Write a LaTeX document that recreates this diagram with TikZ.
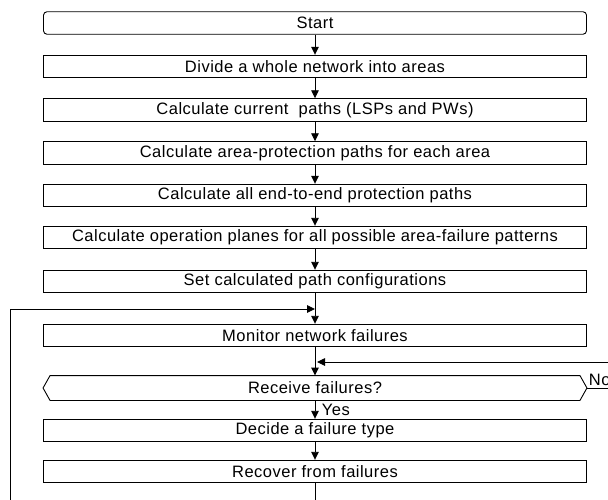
\documentclass[tikz,border=0pt]{standalone}
\usepackage{fontspec}
\setmainfont{Liberation Sans}[LetterSpace=3]
\usetikzlibrary{arrows.meta}
\tikzset{
  labelfont/.style={font=\fontsize{16.5}{19}\selectfont},
  stepbox/.style={draw, labelfont, minimum width=543pt, minimum height=22.5pt, inner sep=0pt},
  startbox/.style={stepbox, rounded corners=3.5pt},
  testbox/.style={labelfont, minimum width=543pt, minimum height=24pt, inner sep=0pt},
  flow/.style={-{Triangle[length=8pt,width=7.5pt]}},
  tag/.style={labelfont, inner sep=1.5pt}
}
\begin{document}
\begin{tikzpicture}[x=1pt, y=1pt, line width=0.9pt]
\useasboundingbox (0,0) rectangle (608,-500);
\clip (0,0) rectangle (608,-500);

% main sequence of steps
\node[startbox] (start)   at (315,-23)    {Start};
\node[stepbox]  (divide)  at (315,-66.5)  {Divide a whole network into areas};
\node[stepbox]  (current) at (315,-110)   {Calculate current\ \ paths (LSPs and PWs)};
\node[stepbox]  (areap)   at (315,-153)   {Calculate area-protection paths for each area};
\node[stepbox]  (etoe)    at (315,-195.5) {Calculate all end-to-end protection paths};
\node[stepbox]  (planes)  at (315,-237.5) {Calculate operation planes for all possible area-failure patterns};
\node[stepbox]  (setcfg)  at (315,-281.5) {Set calculated path configurations};
\node[stepbox]  (monitor) at (315,-335.5) {Monitor network failures};
\node[testbox]  (receive) at (315,-388)   {Receive failures?};
\node[stepbox]  (decide)  at (315,-430.5) {Decide a failure type};
\node[stepbox]  (recover) at (315,-471.5) {Recover from failures};

% decision outline (hexagon)
\draw ([xshift=7pt]receive.north west) -- ([xshift=-7pt]receive.north east)
  -- (receive.east) -- ([xshift=-7pt]receive.south east)
  -- ([xshift=7pt]receive.south west) -- (receive.west) -- cycle;

% forward connectors
\draw[flow] (start)   -- (divide);
\draw[flow] (divide)  -- (current);
\draw[flow] (current) -- (areap);
\draw[flow] (areap)   -- (etoe);
\draw[flow] (etoe)    -- (planes);
\draw[flow] (planes)  -- (setcfg);
\draw[flow] (setcfg)  -- (monitor);
\draw[flow] (monitor) -- (receive);
\draw[flow] (receive) -- (decide);
\draw[flow] (decide)  -- (recover);

% loop back after recovery
\coordinate (recbot)  at (315,-500);
\coordinate (loopbot) at (10,-500);
\coordinate (loopin)  at (315,-309);
\draw (recover) -- (recbot);
\draw[flow] (loopbot) |- (loopin);

% "No" branch returning above the decision
\coordinate (noend)  at (608,-388);
\coordinate (nofar)  at (608,-362);
\coordinate (noin)   at (317,-362);
\draw (receive.east) -- (noend);
\draw[flow] (nofar) -- (noin);
\node[tag, anchor=south west] (nolabel) at (receive.east) {No};
\node[tag, anchor=west] (yeslabel) at (320,-410) {Yes};
\end{tikzpicture}
\end{document}
